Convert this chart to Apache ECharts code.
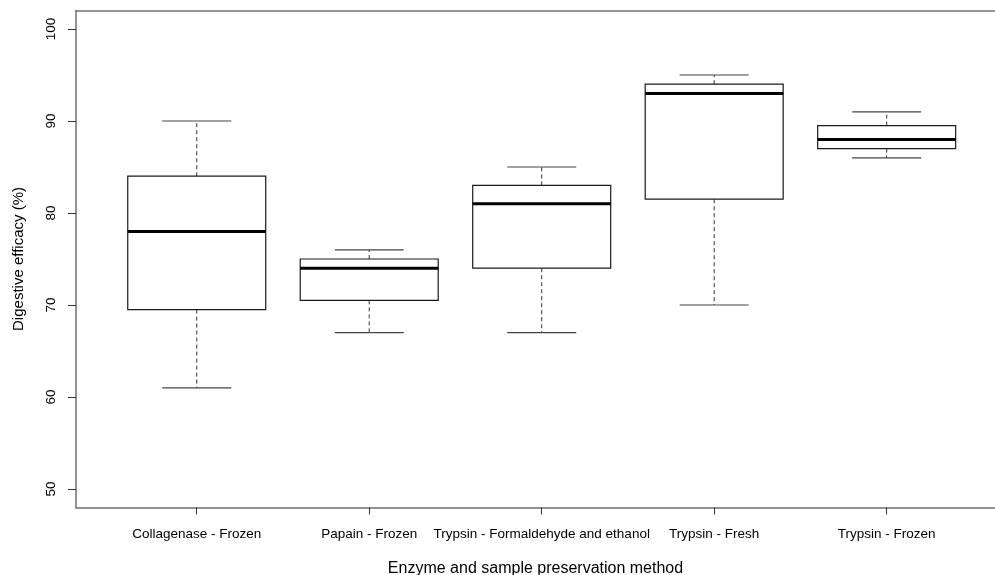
<!DOCTYPE html>
<html>
<head>
<meta charset="utf-8">
<script src="https://cdn.jsdelivr.net/npm/echarts@6/dist/echarts.min.js"></script>
<style>html,body{margin:0;padding:0;background:#fff}#c{width:995px;height:575px}</style>
</head>
<body>
<div id="c"></div>
<script>
var categories = ["Collagenase - Frozen", "Papain - Frozen", "Trypsin - Formaldehyde and ethanol", "Trypsin - Fresh", "Trypsin - Frozen"];
var whiskerLow = [61, 67, 67, 70, 86];
var quartile1 = [69.5, 70.5, 74, 81.5, 87];
var medians = [78, 74, 81, 93, 88];
var quartile3 = [84, 75, 83, 94, 89.5];
var whiskerHigh = [90, 76, 85, 95, 91];
var yTicks = [50, 60, 70, 80, 90, 100];
var xTicks = [1, 2, 3, 4, 5];

var boxData = categories.map(function (c, i) {
  return [xTicks[i], whiskerLow[i], quartile1[i], medians[i], quartile3[i], whiskerHigh[i]];
});

var FONT = "'Liberation Sans', Arial, sans-serif";
var FRAME = '#707070';
var chart = echarts.init(document.getElementById('c'), null, {renderer: 'canvas'});

function renderItem(params, api) {
  var x = api.value(0);
  var lo = api.coord([x, api.value(1)]);
  var q1 = api.coord([x, api.value(2)]);
  var md = api.coord([x, api.value(3)]);
  var q3 = api.coord([x, api.value(4)]);
  var hi = api.coord([x, api.value(5)]);
  var halfBox = api.size([0.4, 0])[0];
  var halfCap = api.size([0.2, 0])[0];
  var cx = lo[0];
  var stroke = '#1a1a1a';
  return {
    type: 'group',
    children: [
      {type: 'line', shape: {x1: cx, y1: q3[1], x2: cx, y2: hi[1]}, style: {stroke: '#333', lineWidth: 1, lineDash: [4, 3]}},
      {type: 'line', shape: {x1: cx, y1: q1[1], x2: cx, y2: lo[1]}, style: {stroke: '#333', lineWidth: 1, lineDash: [4, 3]}},
      {type: 'line', shape: {x1: cx - halfCap, y1: hi[1], x2: cx + halfCap, y2: hi[1]}, style: {stroke: '#444', lineWidth: 1.2}},
      {type: 'line', shape: {x1: cx - halfCap, y1: lo[1], x2: cx + halfCap, y2: lo[1]}, style: {stroke: '#444', lineWidth: 1.2}},
      {type: 'rect', shape: {x: cx - halfBox, y: q3[1], width: halfBox * 2, height: q1[1] - q3[1]}, style: {fill: '#fff', stroke: stroke, lineWidth: 1.2}},
      {type: 'line', shape: {x1: cx - halfBox, y1: md[1], x2: cx + halfBox, y2: md[1]}, style: {stroke: '#000', lineWidth: 3}}
    ]
  };
}

chart.setOption({
  animation: false,
  backgroundColor: '#fff',
  grid: {left: 76, right: 0, top: 10.6, bottom: 67.6, show: false, outerBoundsMode: 'none', containLabel: false},
  xAxis: [{
    type: 'value', min: 0.3, max: 5.628,
    splitLine: {show: false},
    axisLine: {show: true, lineStyle: {color: FRAME, width: 1.5}},
    axisTick: {show: true, inside: false, length: 7, customValues: xTicks, lineStyle: {color: '#333'}},
    axisLabel: {show: true, customValues: xTicks, margin: 20, color: '#000', fontFamily: FONT, fontSize: 13.5,
      formatter: function (v) { return categories[Math.round(v) - 1]; }},
    name: 'Enzyme and sample preservation method', nameLocation: 'middle', nameGap: 53,
    nameTextStyle: {color: '#000', fontFamily: FONT, fontSize: 16}
  }, {
    type: 'value', min: 0.3, max: 5.628, position: 'top',
    splitLine: {show: false},
    axisLine: {show: true, onZero: false, lineStyle: {color: FRAME, width: 1.5}},
    axisTick: {show: false}, axisLabel: {show: false}
  }],
  yAxis: {
    type: 'value', min: 48, max: 102,
    splitLine: {show: false},
    axisLine: {show: true, onZero: false, lineStyle: {color: FRAME, width: 1.5}},
    axisTick: {show: true, inside: false, length: 8, customValues: yTicks, lineStyle: {color: '#333'}},
    axisLabel: {show: true, customValues: yTicks, rotate: 90, margin: 18, color: '#000', fontFamily: FONT, fontSize: 13.5},
    name: 'Digestive efficacy (%)', nameLocation: 'middle', nameGap: 50, nameRotate: 90,
    nameTextStyle: {color: '#000', fontFamily: FONT, fontSize: 15}
  },
  series: [{
    type: 'custom',
    renderItem: renderItem,
    encode: {x: 0, y: [1, 2, 3, 4, 5]},
    data: boxData,
    clip: false
  }]
});
</script>
</body>
</html>
